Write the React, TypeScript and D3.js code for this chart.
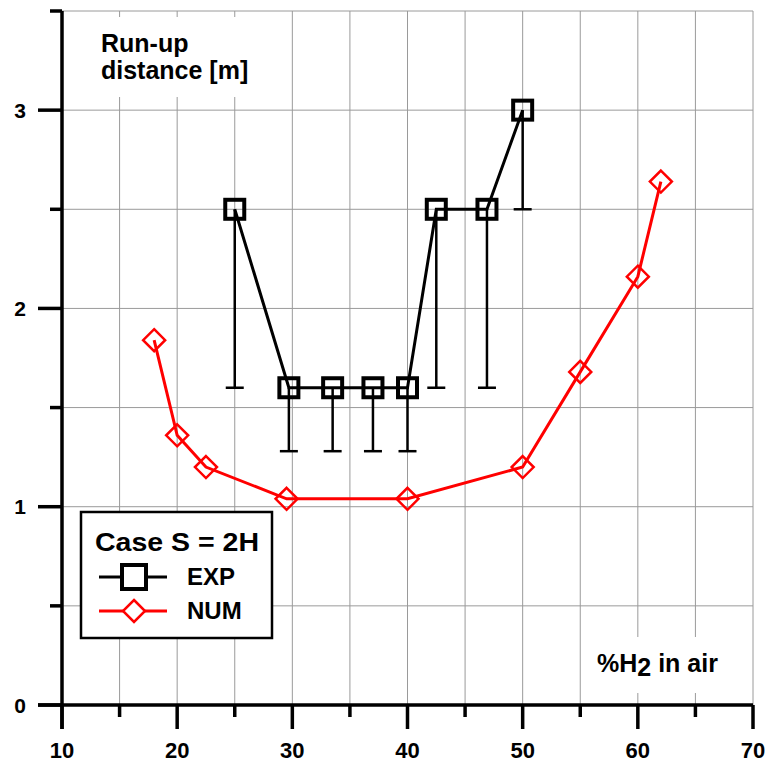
import React from "react";
import * as d3 from "d3";

// Experimental run-up distances with lower error limits
const expX = [25, 29.7, 33.5, 37, 40, 42.5, 46.9, 50];
const expY = [2.5, 1.6, 1.6, 1.6, 1.6, 2.5, 2.5, 3.0];
const expLow = [1.6, 1.28, 1.28, 1.28, 1.28, 1.6, 1.6, 2.5];

// Numerical results
const numX = [18, 20, 22.5, 29.5, 40, 50, 55, 60, 62];
const numY = [1.84, 1.36, 1.2, 1.04, 1.04, 1.2, 1.68, 2.16, 2.64];

const xMajorTicks = [10, 20, 30, 40, 50, 60, 70];
const xMinorTicks = [15, 25, 35, 45, 55, 65];
const yMajorTicks = [0, 1, 2, 3];
const yMinorTicks = [0.5, 1.5, 2.5, 3.5];

const W = 767;
const H = 762;
const FONT = "'Liberation Sans', Arial, sans-serif";

export default function App() {
  const x = d3.scaleLinear().domain([10, 70]).range([62, 753]);
  const y = d3.scaleLinear().domain([0, 3.5]).range([705, 11]);

  const expPts = expX.map((v, i) => [v, expY[i]] as [number, number]);
  const numPts = numX.map((v, i) => [v, numY[i]] as [number, number]);
  const line = d3
    .line<[number, number]>()
    .x((d) => x(d[0]))
    .y((d) => y(d[1]));

  const gridX = d3.range(10, 70.01, 5);
  const gridY = d3.range(0, 3.51, 0.5);

  const sq = 19;
  const dm = 11;

  return (
    <svg
      width={W}
      height={H}
      style={{ position: "absolute", left: 0, top: 0, background: "#fff" }}
      fontFamily={FONT}
      fontWeight="bold"
    >
      {/* grid */}
      <g stroke="#9a9a9a" strokeWidth={1}>
        {gridX.map((v) => (
          <line key={"gx" + v} x1={x(v)} x2={x(v)} y1={y(3.5)} y2={y(0)} />
        ))}
        {gridY.map((v) => (
          <line key={"gy" + v} x1={x(10)} x2={x(70)} y1={y(v)} y2={y(v)} />
        ))}
      </g>

      {/* axis titles on white panels */}
      <rect x={92} y={17} width={166} height={80} fill="#fff" />
      <text x={101} y={52} fontSize={25} fill="#000">Run-up</text>
      <text x={101} y={79} fontSize={25} fill="#000">distance [m]</text>

      <rect x={590} y={637} width={140} height={56} fill="#fff" />
      <text x={597} y={672} fontSize={25} fill="#000">
        %H<tspan dy={4}>2</tspan>
        <tspan dy={-4}> in air</tspan>
      </text>

      {/* NUM series */}
      <path d={line(numPts) || ""} fill="none" stroke="#ff0000" strokeWidth={3} />
      {numPts.map((p, i) => (
        <path
          key={"n" + i}
          d={`M${x(p[0])},${y(p[1]) - dm}L${x(p[0]) + dm},${y(p[1])}L${x(p[0])},${y(p[1]) + dm}L${x(p[0]) - dm},${y(p[1])}Z`}
          fill="none"
          stroke="#ff0000"
          strokeWidth={2.5}
        />
      ))}

      {/* EXP error bars */}
      <g stroke="#000" strokeWidth={2.5}>
        {expPts.map((p, i) => (
          <g key={"e" + i}>
            <line x1={x(p[0])} x2={x(p[0])} y1={y(p[1])} y2={y(expLow[i])} />
            <line x1={x(p[0]) - 9} x2={x(p[0]) + 9} y1={y(expLow[i])} y2={y(expLow[i])} />
          </g>
        ))}
      </g>

      {/* EXP series */}
      <path d={line(expPts) || ""} fill="none" stroke="#000" strokeWidth={3} />
      {expPts.map((p, i) => (
        <rect
          key={"s" + i}
          x={x(p[0]) - sq / 2}
          y={y(p[1]) - sq / 2}
          width={sq}
          height={sq}
          fill="none"
          stroke="#000"
          strokeWidth={4}
        />
      ))}

      {/* axes */}
      <g stroke="#000" strokeWidth={3.5}>
        <line x1={x(10)} x2={x(10)} y1={y(3.5)} y2={y(0) + 24} />
        <line x1={x(10) - 24} x2={x(70)} y1={y(0)} y2={y(0)} />
        {xMajorTicks.map((v) => (
          <line key={"xM" + v} x1={x(v)} x2={x(v)} y1={y(0)} y2={y(0) + 24} />
        ))}
        {xMinorTicks.map((v) => (
          <line key={"xm" + v} x1={x(v)} x2={x(v)} y1={y(0)} y2={y(0) + 12} />
        ))}
        {yMajorTicks.map((v) => (
          <line key={"yM" + v} x1={x(10) - 24} x2={x(10)} y1={y(v)} y2={y(v)} />
        ))}
        {yMinorTicks.map((v) => (
          <line key={"ym" + v} x1={x(10) - 12} x2={x(10)} y1={y(v)} y2={y(v)} />
        ))}
      </g>
      {xMajorTicks.map((v) => (
        <text key={"xl" + v} x={x(v)} y={758} fontSize={22} textAnchor="middle" fill="#000">
          {v}
        </text>
      ))}
      {yMajorTicks.map((v) => (
        <text
          key={"yl" + v}
          x={26}
          y={y(v)}
          dy="0.36em"
          fontSize={21}
          textAnchor="end"
          fill="#000"
        >
          {v}
        </text>
      ))}

      {/* legend */}
      <rect x={81} y={512} width={191} height={126} fill="#fff" stroke="#000" strokeWidth={2.5} />
      <text x={95} y={551} fontSize={26} fill="#000" textLength={164} lengthAdjust="spacingAndGlyphs">
        Case S = 2H
      </text>
      <line x1={99} x2={167} y1={577} y2={577} stroke="#000" strokeWidth={3} />
      <rect x={134 - 12} y={577 - 12} width={24} height={24} fill="#fff" stroke="#000" strokeWidth={4} />
      <text x={187} y={585} fontSize={24} fill="#000">EXP</text>
      <line x1={99} x2={167} y1={611} y2={611} stroke="#ff0000" strokeWidth={3} />
      <path
        d={`M134,${611 - 11}L145,611L134,${611 + 11}L123,611Z`}
        fill="#fff"
        stroke="#ff0000"
        strokeWidth={2.5}
      />
      <text x={187} y={619} fontSize={24} fill="#000">NUM</text>
    </svg>
  );
}
